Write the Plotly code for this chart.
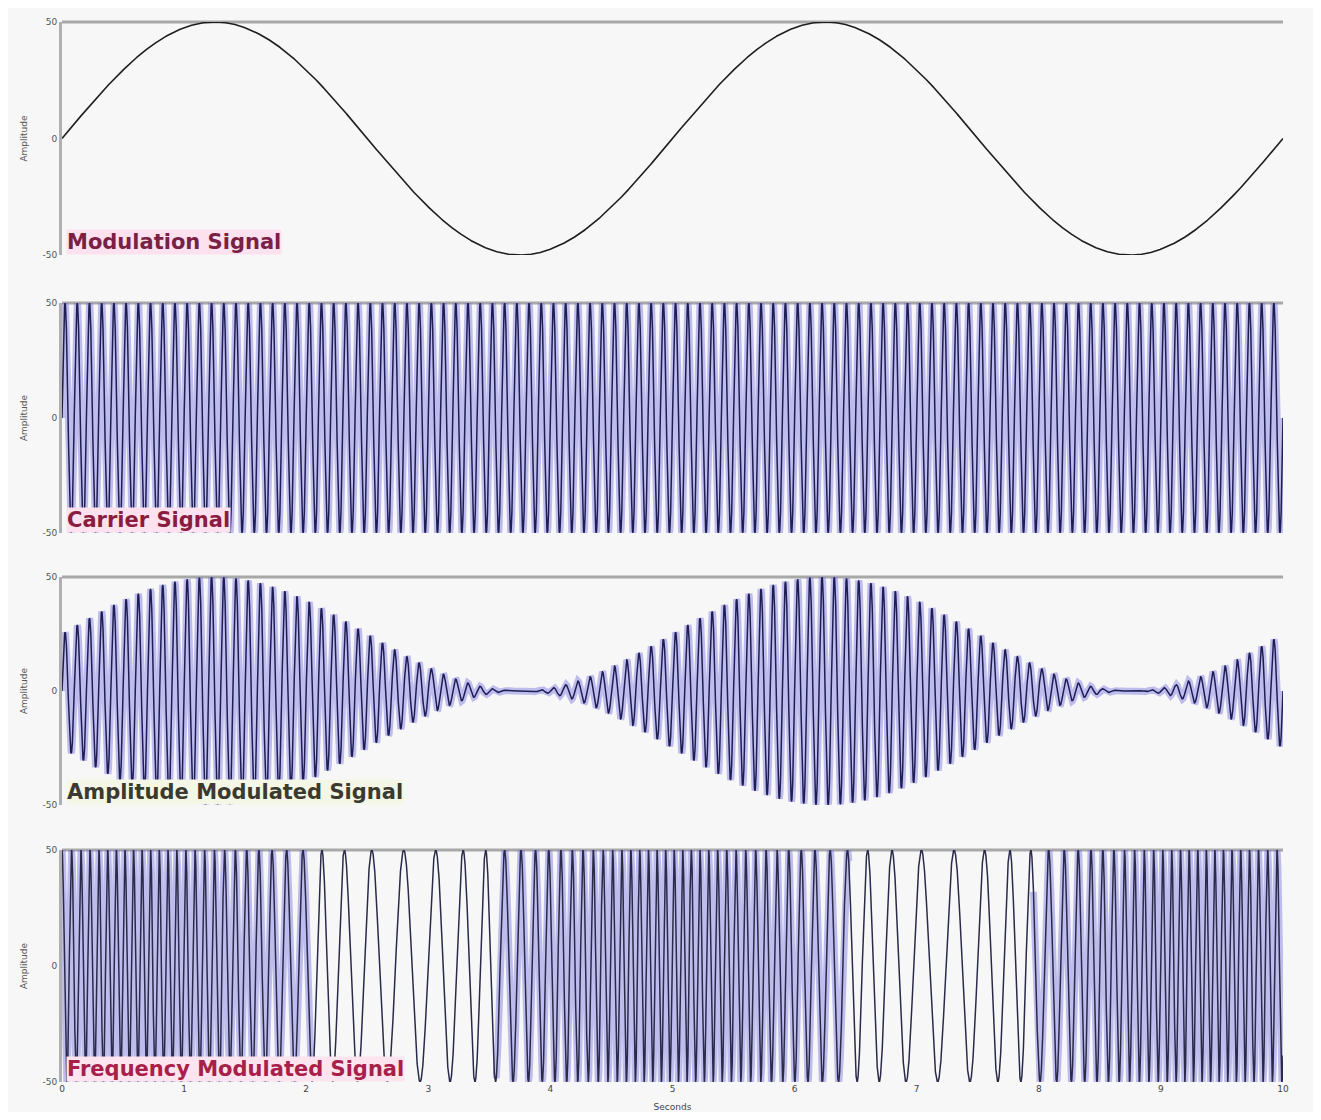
import numpy as np
import plotly.graph_objects as go
from plotly.subplots import make_subplots

# ---- data (signal parameters) ----
t_start, t_end = 0.0, 10.0
n_samples = 20001
amplitude = 50.0              # all panels span -50..50
mod_period = 5.0              # modulation sine period (s)
carrier_freq = 10.0           # carrier frequency (Hz)
fm_center_freq = 9.0          # FM centre frequency (Hz)
fm_deviation = 5.3            # FM frequency deviation (Hz)
fm_mod_period = 4.4           # apparent FM modulation period (s)
fm_peak_time = 0.6            # time of highest FM frequency (s)
fm_shade_min_freq = 6.5       # below this frequency the FM strokes look unshaded

panel_titles = ["Modulation Signal", "Carrier Signal",
                "Amplitude Modulated Signal", "Frequency Modulated Signal"]
y_tick_vals = [-50, 0, 50]
y_tick_text = ["-50", "0", "50"]
x_tick_vals = list(range(0, 11))
x_tick_text = [str(v) for v in x_tick_vals]

t = np.linspace(t_start, t_end, n_samples)
modulation = amplitude * np.sin(2 * np.pi * t / mod_period)
carrier = amplitude * np.sin(2 * np.pi * carrier_freq * t)
am = 0.5 * (amplitude + modulation) * np.sin(2 * np.pi * carrier_freq * t)
inst_f = fm_center_freq + fm_deviation * np.cos(2 * np.pi * (t - fm_peak_time) / fm_mod_period)
phase = 2 * np.pi * np.concatenate([[0], np.cumsum(0.5 * (inst_f[1:] + inst_f[:-1]) * np.diff(t))])
fm = amplitude * np.cos(phase)
fm_shade = np.where(inst_f >= fm_shade_min_freq, fm, np.nan)

# ---- layout (page has an 8px body margin, so work in page pixels minus 8) ----
off = 8
W, H = 1321 - 2 * off, 1120 - 2 * off
ml = 62 - off
mr = W - (1283 - off)
mt, mb = 6, 30
ph = H - mt - mb

def frac(p_page):
    p = p_page - off
    return (H - mb - p) / ph

panel_px = [(22, 255), (303, 533), (577, 805), (850, 1082)]

fig = make_subplots(rows=4, cols=1, shared_xaxes=False, vertical_spacing=0.02)

bg = "#f7f7f7"
halo = "rgba(112,108,222,0.42)"
dark = "#1e1e55"

halos = [None, carrier, am, fm_shade]
series = [modulation, carrier, am, fm]
for i, y in enumerate(series, start=1):
    if i > 1:
        fig.add_trace(go.Scatter(x=t, y=halos[i - 1], mode="lines",
                                 line=dict(color=halo, width=7), connectgaps=False,
                                 hoverinfo="skip", showlegend=False), row=i, col=1)
        fig.add_trace(go.Scatter(x=t, y=y, mode="lines",
                                 line=dict(color=dark if i < 4 else "#2a2a4a", width=1.5),
                                 showlegend=False), row=i, col=1)
    else:
        fig.add_trace(go.Scatter(x=t, y=y, mode="lines",
                                 line=dict(color="#1e1e1e", width=1.6),
                                 showlegend=False), row=i, col=1)

label_colors = ["#7a1f45", "#8a1c40", "#3a3a30", "#a8204a"]
label_bg = ["#fde1ee", "#fde1ee", "#f4f6e6", "#fde4ee"]

for i, (top, bot) in enumerate(panel_px, start=1):
    yname = "yaxis" if i == 1 else f"yaxis{i}"
    xname = "xaxis" if i == 1 else f"xaxis{i}"
    fig.layout[yname].update(
        domain=[frac(bot), frac(top)], range=[-50, 50],
        tickvals=y_tick_vals, ticktext=y_tick_text,
        tickfont=dict(size=9, color="#555", family="DejaVu Sans"),
        showgrid=False, zeroline=False, showline=True,
        linecolor="#b0b0b0", linewidth=3, ticks="", ticklen=0,
        title=dict(text="Amplitude", font=dict(size=9, color="#555", family="DejaVu Sans"), standoff=14),
        automargin=False, fixedrange=True)
    fig.layout[xname].update(
        range=[0, 10], showgrid=False, zeroline=False, showline=False,
        tickvals=x_tick_vals, ticktext=x_tick_text,
        showticklabels=(i == 4), ticks="",
        tickfont=dict(size=9, color="#444", family="DejaVu Sans"),
        automargin=False, fixedrange=True)
    xd = "x domain" if i == 1 else f"x{i} domain"
    yd = "y domain" if i == 1 else f"y{i} domain"
    fig.add_shape(type="line", xref=xd, yref=yd, x0=0, x1=1, y0=1, y1=1,
                  line=dict(color="#a8a8a8", width=3), layer="below")
    fig.add_annotation(xref=xd, yref=yd, x=0.003, y=0.0, xanchor="left", yanchor="bottom",
                       text=f"<b>{panel_titles[i-1]}</b>", showarrow=False,
                       font=dict(size=21, color=label_colors[i-1], family="DejaVu Sans"),
                       bgcolor=label_bg[i-1], borderpad=0)

fig.layout["xaxis4"].update(title=dict(text="Seconds", font=dict(size=9, color="#444", family="DejaVu Sans"), standoff=10))

fig.update_layout(width=W, height=H, margin=dict(l=ml, r=mr, t=mt, b=mb),
                  paper_bgcolor=bg, plot_bgcolor=bg, showlegend=False)

fig.write_html("out.html")
